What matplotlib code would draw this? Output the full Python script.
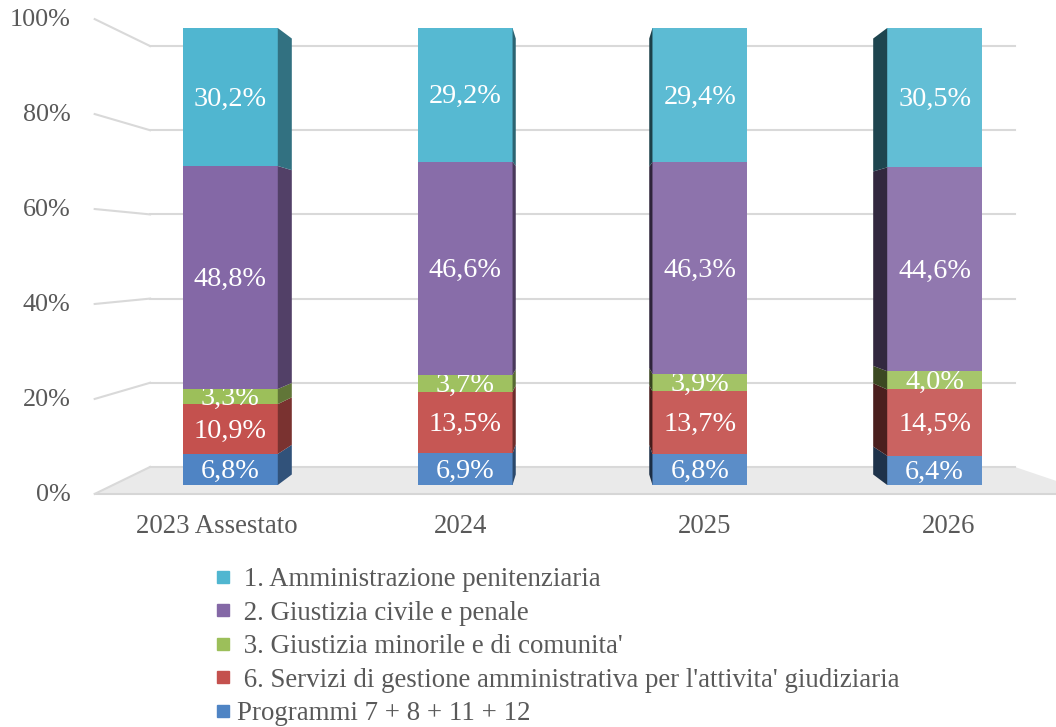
import matplotlib
matplotlib.use("Agg")
import matplotlib.pyplot as plt
from matplotlib.patches import Polygon
from matplotlib.lines import Line2D
from matplotlib.colors import to_rgb
import numpy as np

plt.rcParams['font.family'] = ['Liberation Serif', 'DejaVu Serif']

categories = ["2023 Assestato", "2024", "2025", "2026"]

# stacked from the bottom up
programmi = [6.8, 6.9, 6.8, 6.4]
servizi = [10.9, 13.5, 13.7, 14.5]
minorile = [3.3, 3.7, 3.9, 4.0]
civile = [48.8, 46.6, 46.3, 44.6]
penitenziaria = [30.2, 29.2, 29.4, 30.5]

names = ["Programmi 7 + 8 + 11 + 12",
         " 6. Servizi di gestione amministrativa per l'attivita' giudiziaria",
         " 3. Giustizia minorile e di comunita'",
         " 2. Giustizia civile e penale",
         " 1. Amministrazione penitenziaria"]
colors = ["#4F84C4", "#C4514E", "#9CBF5A", "#8468A6", "#50B6D0"]

yticks = [0, 20, 40, 60, 80, 100]

series = [programmi, servizi, minorile, civile, penitenziaria]
data = np.array(series, dtype=float)
pct = data / data.sum(axis=0) * 100  # 100% stacked

fig = plt.figure(figsize=(10.56, 7.27), dpi=100)
ax = fig.add_axes([113 / 1056, 1 - 485 / 727, 939 / 1056, 457 / 727])
ax.set_xlim(-0.5, 3.5)
ax.set_ylim(0, 100)
ax.axis('off')

# simple perspective: points pulled toward a vanishing point
vp = (1.5, 50.0)
FRONT, BACK, BAR_BACK = 1.039, 0.921, 0.954


def proj(x, y, s):
    return (vp[0] + s * (x - vp[0]), vp[1] + s * (y - vp[1]))


def lighten(c, f):
    r = np.array(to_rgb(c))
    return tuple(r + (1 - r) * f)


def darken(c, f):
    return tuple(np.array(to_rgb(c)) * f)


# floor
floor = Polygon([proj(-0.5, 0, FRONT), proj(3.6, 0, FRONT),
                 proj(3.5, 0, BACK), proj(-0.5, 0, BACK)],
                closed=True, fc="#EAEAEA", ec="none", clip_on=False, zorder=0)
ax.add_patch(floor)
p0, p1 = proj(-0.5, 0, FRONT), proj(3.6, 0, FRONT)
ax.plot([p0[0], p1[0]], [p0[1], p1[1]], color="#D6D6D6", lw=1.5, clip_on=False, zorder=1)

# gridlines on back and left wall
grid_c = "#D9D9D9"
for t in yticks:
    a, b = proj(-0.5, t, BACK), proj(3.5, t, BACK)
    ax.plot([a[0], b[0]], [a[1], b[1]], color=grid_c, lw=1.5, clip_on=False, zorder=1)
    c = proj(-0.5, t, FRONT)
    ax.plot([c[0], a[0]], [c[1], a[1]], color=grid_c, lw=1.5, clip_on=False, zorder=1)
    ax.annotate(f"{t}%", xy=c, xytext=(-24, -1), textcoords='offset pixels',
                ha='right', va='center', fontsize=18.8, color="#595959",
                annotation_clip=False)

# category labels
for i, cat in enumerate(categories):
    p = proj(i, 0, FRONT)
    ax.annotate(cat, xy=p, xytext=(0, -33), textcoords='offset pixels',
                ha='center', va='center', fontsize=19.3, color="#595959",
                annotation_clip=False)

# bars
width = 0.404
x = np.arange(len(categories))
side_dark = [0.62, 0.55, 0.35, 0.38]
bottom = np.zeros(len(categories))
for j, (vals, col) in enumerate(zip(pct, colors)):
    for i in range(len(categories)):
        fc = lighten(col, 0.035 * i)
        b0, b1 = bottom[i], bottom[i] + vals[i]
        ax.bar(x[i], vals[i], width=width, bottom=b0, color=fc,
               zorder=3 + 2 * j, linewidth=0)
        edge = x[i] + width / 2 if x[i] < vp[0] else x[i] - width / 2
        side = Polygon([(edge, b0), (edge, b1), proj(edge, b1, BAR_BACK),
                        proj(edge, b0, BAR_BACK)], closed=True,
                       fc=darken(col, side_dark[i]), ec="none", zorder=3 + 2 * j,
                       clip_on=False)
        ax.add_patch(side)
        lab = f"{data[j, i]:.1f}%".replace(".", ",")
        ax.annotate(lab, xy=(x[i], (b0 + b1) / 2), xytext=(0, -2),
                    textcoords='offset pixels', ha='center', va='center',
                    fontsize=20.3, color="white", zorder=4 + 2 * j)
    bottom += vals

# legend, top entry first
handles = [Line2D([], [], marker='s', ls='', color=c, markersize=8)
           for c in colors[::-1]]
fig.legend(handles, names[::-1], loc='upper left',
           bbox_to_anchor=(215 / 1056, 1 - 567 / 727), frameon=False,
           fontsize=19.4, labelcolor="#595959", handlelength=0.6,
           handletextpad=0.2, labelspacing=0.32, borderpad=0, borderaxespad=0)

fig.savefig("out.png", dpi=100)
